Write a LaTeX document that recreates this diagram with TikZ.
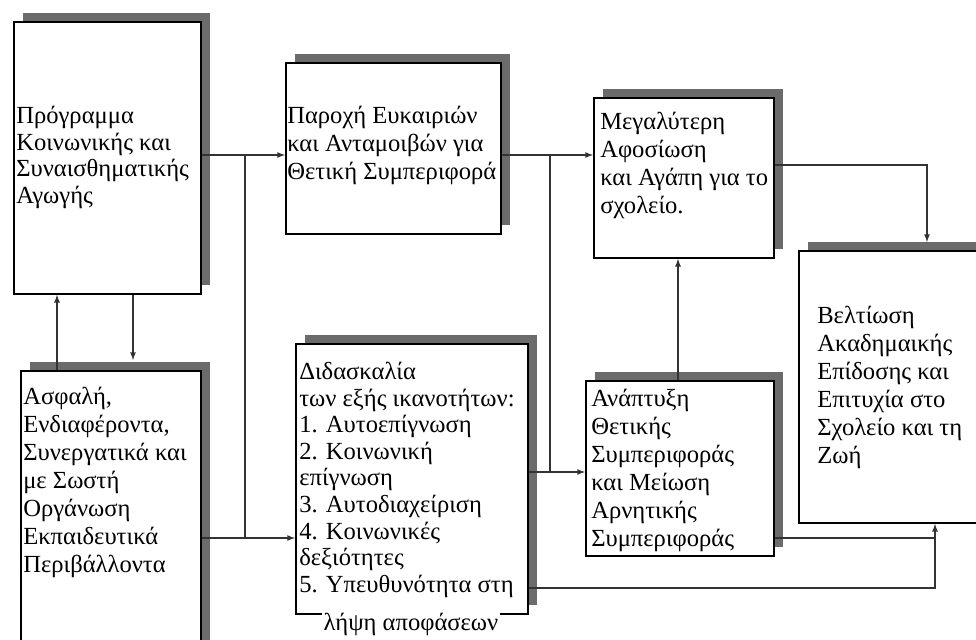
\documentclass[tikz,border=0pt]{standalone}
\usepackage{fontspec}
\setmainfont{Liberation Serif}
\usetikzlibrary{arrows,shadows}
\newlength{\pxu}
\setlength{\pxu}{0.25mm}
\tikzset{
    bxsty/.style={draw=black,line width=1.3pt,fill=white,rectangle,anchor=north west,inner sep=0pt,
        drop shadow={shadow xshift=9*\pxu,shadow yshift=9*\pxu,opacity=1,fill=black!58}},
    txtsty/.style={align=left,anchor=north west,inner sep=0pt,font=\fontsize{17.5}{19.9}\selectfont},
    tighttxtsty/.style={txtsty,font=\fontsize{17.5}{18.9}\selectfont},
    linesty/.style={draw=black!80,line width=0.9pt},
    arrsty/.style={linesty,->},
}

\begin{document}
\begin{tikzpicture}[>=latex,x=0.25mm,y=-0.25mm]
  \useasboundingbox[fill=white] (0,0) rectangle (976,640);

  % frames
  \node[bxsty,minimum width=187*\pxu,minimum height=272*\pxu] (A) at (13,21) {};
  \node[bxsty,minimum width=180*\pxu,minimum height=290*\pxu] (B) at (20,370) {};
  \node[bxsty,minimum width=215*\pxu,minimum height=171*\pxu] (C) at (285,62) {};
  \node[bxsty,minimum width=180*\pxu,minimum height=160*\pxu] (D) at (593,97) {};
  \node[bxsty,minimum width=200*\pxu,minimum height=272*\pxu] (E) at (798,250) {};
  \node[bxsty,minimum width=188*\pxu,minimum height=175*\pxu] (F) at (585,380) {};
  \node[bxsty,minimum width=232*\pxu,minimum height=270*\pxu] (G) at (295,343) {};

  % texts
  \node[tighttxtsty] (Atxt) at (16,106) {Πρόγραμμα\\Κοινωνικής και\\Συναισθηματικής\\Αγωγής};
  \node[txtsty] (Btxt) at (23,387) {Ασφαλή,\\Ενδιαφέροντα,\\Συνεργατικά και\\με Σωστή\\Οργάνωση\\Εκπαιδευτικά\\Περιβάλλοντα};
  \node[txtsty] (Ctxt) at (287,106) {Παροχή Ευκαιριών\\και Ανταμοιβών για\\Θετική Συμπεριφορά};
  \node[txtsty] (Dtxt) at (600,112) {Μεγαλύτερη\\Αφοσίωση\\και Αγάπη για το\\σχολείο.};
  \node[txtsty] (Etxt) at (817,306) {Βελτίωση\\Ακαδημαικής\\Επίδοσης και\\Επιτυχία στο\\Σχολείο και τη\\Ζωή};
  \node[txtsty] (Ftxt) at (591,389) {Ανάπτυξη\\Θετικής\\Συμπεριφοράς\\και Μείωση\\Αρνητικής\\Συμπεριφοράς};
  \node[tighttxtsty] (Gtxt) at (299,362) {Διδασκαλία\\των εξής ικανοτήτων:\\1. Αυτοεπίγνωση\\2. Κοινωνική\\επίγνωση\\3. Αυτοδιαχείριση\\4. Κοινωνικές\\δεξιότητες\\5. Υπευθυνότητα στη};
  \node[txtsty,anchor=base,fill=white,inner sep=1pt] (Gtxtb) at (411,630) {λήψη αποφάσεων};

  % junctions
  \coordinate (ja) at (245,155);
  \coordinate (jb) at (245,538);
  \coordinate (jc) at (550,155);
  \coordinate (jd) at (550,472);
  \coordinate (je) at (927,165);
  \coordinate (jf) at (935,538);
  \coordinate (jg) at (935,588);
  \coordinate (up) at (57,0);
  \coordinate (dn) at (133,0);
  \coordinate (fd) at (678,0);

  % connectors
  \draw[arrsty] (A.east |- ja) -- (C.west |- ja);
  \draw[linesty] (ja) -- (jb);
  \draw[arrsty] (B.east |- jb) -- (G.west |- jb);
  \draw[arrsty,shorten >=10*\pxu] (A.south -| dn) -- (B.north -| dn);
  \draw[arrsty] (B.north -| up) -- (A.south -| up);
  \draw[arrsty] (C.east |- jc) -- (D.west |- jc);
  \draw[linesty] (jc) -- (jd);
  \draw[arrsty] (G.east |- jd) -- (F.west |- jd);
  \draw[arrsty,shorten >=8*\pxu] (D.east |- je) -- (je) -- (E.north -| je);
  \draw[arrsty] (F.north -| fd) -- (D.south -| fd);
  \draw[arrsty] (F.east |- jf) -- (jf) -- (E.south -| jf);
  \draw[linesty] (G.east |- jg) -- (jg) -- (jf);
\end{tikzpicture}
\end{document}
